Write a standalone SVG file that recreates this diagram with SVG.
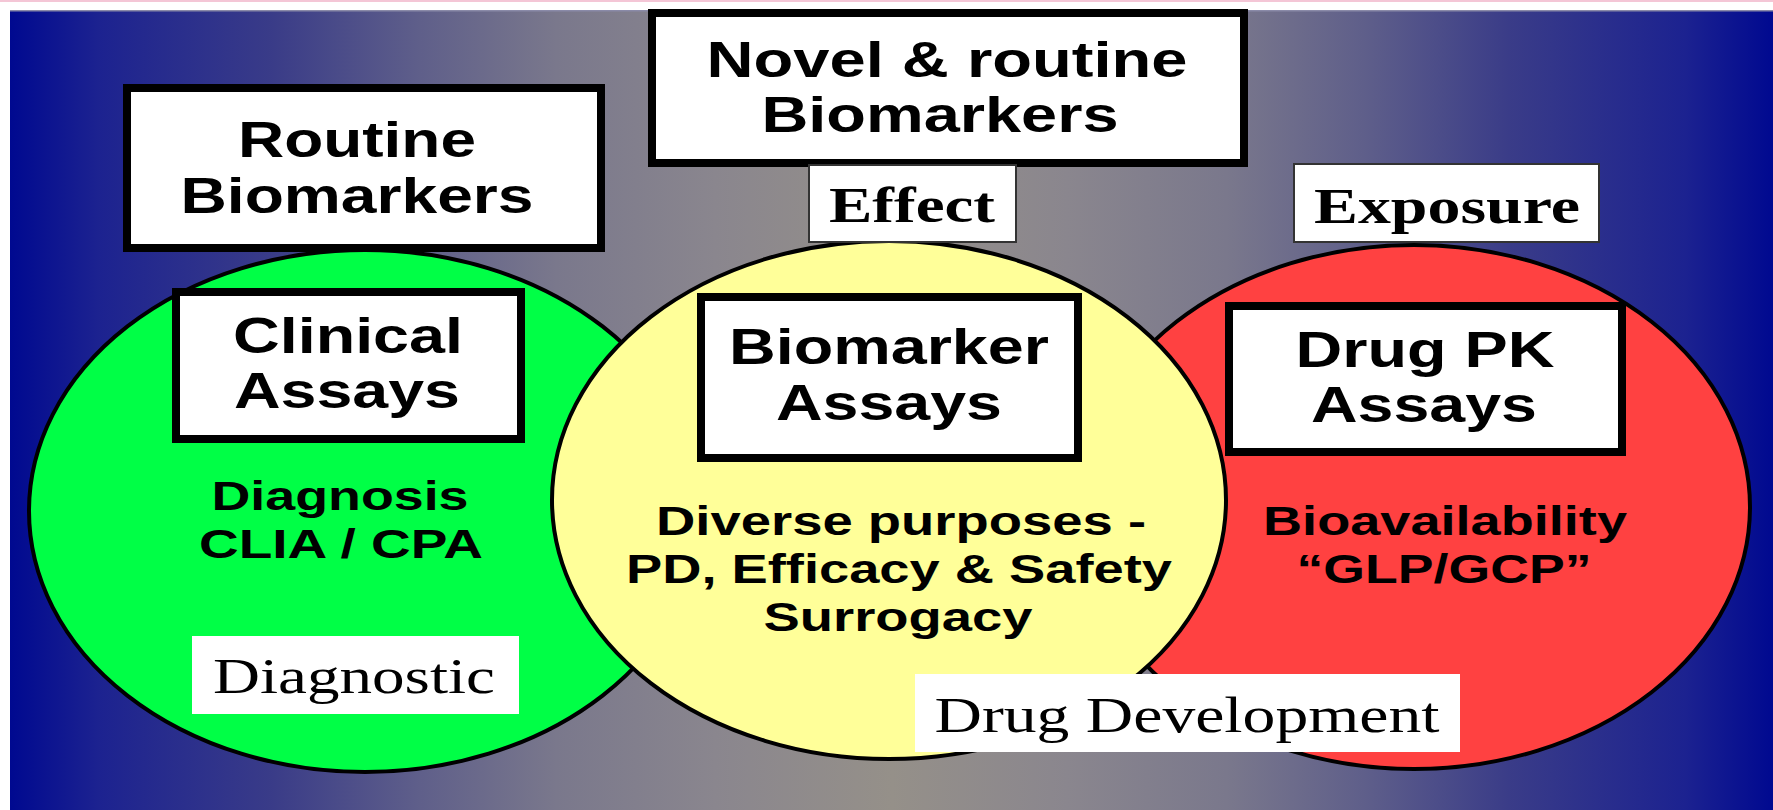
<svg xmlns="http://www.w3.org/2000/svg" width="1773" height="810" viewBox="0 0 1773 810">
  <defs>
    <linearGradient id="bg" x1="10" y1="0" x2="1773" y2="0" gradientUnits="userSpaceOnUse">
      <stop offset="0" stop-color="#000990"/>
      <stop offset="0.05" stop-color="#1c2290"/>
      <stop offset="0.15" stop-color="#3a3c88"/>
      <stop offset="0.23" stop-color="#5e5e8a"/>
      <stop offset="0.31" stop-color="#7a788c"/>
      <stop offset="0.4" stop-color="#8a868e"/>
      <stop offset="0.5" stop-color="#959089"/>
      <stop offset="0.6" stop-color="#8a868e"/>
      <stop offset="0.69" stop-color="#7a788c"/>
      <stop offset="0.77" stop-color="#5e5e8a"/>
      <stop offset="0.85" stop-color="#3a3c88"/>
      <stop offset="0.95" stop-color="#1c2290"/>
      <stop offset="1" stop-color="#000990"/>
    </linearGradient>
    <style>
      .circ { stroke: #000; stroke-width: 4; }
      .box { fill: #fff; stroke: #000; stroke-width: 8; }
      .tag { fill: #fff; stroke: #333; stroke-width: 2; }
      .plain { fill: #fff; }
      .hb { font-family: "Liberation Sans", Arial, sans-serif; font-weight: bold; font-size: 50px; fill: #000; text-anchor: middle; }
      .hs { font-family: "Liberation Sans", Arial, sans-serif; font-weight: bold; font-size: 41px; fill: #000; text-anchor: middle; }
      .tb { font-family: "Liberation Serif", "Times New Roman", serif; font-weight: bold; font-size: 50px; fill: #000; text-anchor: middle; }
      .tr { font-family: "Liberation Serif", "Times New Roman", serif; font-size: 51px; fill: #000; text-anchor: middle; }
    </style>
  </defs>

  <g id="background">
    <rect x="0" y="0" width="1773" height="810" fill="#fff"/>
    <rect x="0" y="0" width="1773" height="2" fill="#f4c6d6"/>
    <rect x="10" y="10" width="1763" height="800" fill="url(#bg)"/>
    <rect x="10" y="10" width="1763" height="1.5" fill="#8a8aa8"/>
  </g>

  <g id="circle-clinical">
    <ellipse class="circ" cx="365" cy="511" rx="336" ry="261" fill="#00ff46"/>
  </g>
  <g id="circle-pk">
    <ellipse class="circ" cx="1414" cy="507" rx="336" ry="262" fill="#ff4141"/>
  </g>
  <g id="circle-biomarker">
    <ellipse class="circ" cx="889" cy="500" rx="337" ry="259" fill="#ffff99"/>
  </g>

  <g id="routine-biomarkers">
    <rect class="box" x="127" y="88" width="474" height="160"/>
    <text class="hb" x="357" y="157" textLength="238" lengthAdjust="spacingAndGlyphs">Routine</text>
    <text class="hb" x="357" y="213" textLength="353" lengthAdjust="spacingAndGlyphs">Biomarkers</text>
  </g>

  <g id="novel-routine-biomarkers">
    <rect class="box" x="652" y="13" width="592" height="150"/>
    <text class="hb" x="947" y="77" textLength="481" lengthAdjust="spacingAndGlyphs">Novel &amp; routine</text>
    <text class="hb" x="940" y="132" textLength="357" lengthAdjust="spacingAndGlyphs">Biomarkers</text>
  </g>

  <g id="effect">
    <rect class="tag" x="809" y="165" width="207" height="77"/>
    <text class="tb" x="912" y="222" textLength="166" lengthAdjust="spacingAndGlyphs">Effect</text>
  </g>

  <g id="exposure">
    <rect class="tag" x="1294" y="164" width="305" height="78"/>
    <text class="tb" x="1447" y="223" textLength="266" lengthAdjust="spacingAndGlyphs">Exposure</text>
  </g>

  <g id="clinical-assays">
    <rect class="box" x="176" y="292" width="345" height="147"/>
    <text class="hb" x="348" y="353" textLength="230" lengthAdjust="spacingAndGlyphs">Clinical</text>
    <text class="hb" x="347" y="408" textLength="226" lengthAdjust="spacingAndGlyphs">Assays</text>
  </g>

  <g id="biomarker-assays">
    <rect class="box" x="701" y="297" width="377" height="161"/>
    <text class="hb" x="889" y="364" textLength="320" lengthAdjust="spacingAndGlyphs">Biomarker</text>
    <text class="hb" x="889" y="420" textLength="226" lengthAdjust="spacingAndGlyphs">Assays</text>
  </g>

  <g id="drug-pk-assays">
    <rect class="box" x="1229" y="306" width="393" height="146"/>
    <text class="hb" x="1425" y="367" textLength="259" lengthAdjust="spacingAndGlyphs">Drug PK</text>
    <text class="hb" x="1424" y="422" textLength="226" lengthAdjust="spacingAndGlyphs">Assays</text>
  </g>

  <g id="clinical-detail">
    <text class="hs" x="340" y="510" textLength="257" lengthAdjust="spacingAndGlyphs">Diagnosis</text>
    <text class="hs" x="341" y="558" textLength="284" lengthAdjust="spacingAndGlyphs">CLIA / CPA</text>
  </g>

  <g id="biomarker-detail">
    <text class="hs" x="901" y="535" textLength="490" lengthAdjust="spacingAndGlyphs">Diverse purposes -</text>
    <text class="hs" x="899" y="583" textLength="546" lengthAdjust="spacingAndGlyphs">PD, Efficacy &amp; Safety</text>
    <text class="hs" x="898" y="631" textLength="269" lengthAdjust="spacingAndGlyphs">Surrogacy</text>
  </g>

  <g id="pk-detail">
    <text class="hs" x="1445" y="535" textLength="364" lengthAdjust="spacingAndGlyphs">Bioavailability</text>
    <text class="hs" x="1444" y="583" textLength="295" lengthAdjust="spacingAndGlyphs">“GLP/GCP”</text>
  </g>

  <g id="diagnostic">
    <rect class="plain" x="192" y="636" width="327" height="78"/>
    <text class="tr" x="354" y="693" textLength="282" lengthAdjust="spacingAndGlyphs">Diagnostic</text>
  </g>

  <g id="drug-development">
    <rect class="plain" x="915" y="674" width="545" height="78"/>
    <text class="tr" x="1187" y="732" textLength="505" lengthAdjust="spacingAndGlyphs">Drug Development</text>
  </g>

  <g id="connectors"></g>
</svg>
